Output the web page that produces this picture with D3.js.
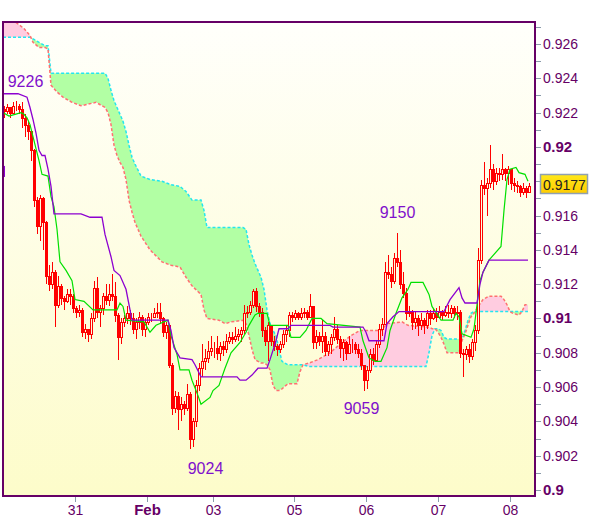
<!DOCTYPE html>
<html><head><meta charset="utf-8">
<script src="https://cdn.jsdelivr.net/npm/d3@7"></script>
<style>html,body{margin:0;padding:0;background:#fff;} svg{display:block;}</style>
</head><body><svg id="c" width="600" height="519"></svg>
<script>
// ---- DATA (prices in pips, 9221 = 0.9221) ----
const firstOpen = 9222;
const close = [9221,9223,9220,9224,9224,9222,9217,9213,9209,9198,
9169,9154,9170,9156,9125,9120,9127,9108,9119,9112,
9110,9114,9113,9106,9104,9105,9092,9094,9091,9100,
9118,9104,9106,9113,9111,9114,9113,9102,9089,9098,
9100,9103,9100,9094,9098,9101,9094,9098,9101,9101,
9103,9104,9100,9092,9096,9073,9048,9055,9047,9050,
9048,9056,9030,9040,9061,9071,9075,9077,9081,9083,
9083,9080,9084,9082,9087,9089,9088,9090,9091,9093,
9103,9104,9108,9116,9107,9104,9093,9087,9096,9087,
9084,9082,9085,9091,9093,9102,9101,9103,9101,9103,
9104,9101,9107,9086,9090,9087,9090,9081,9085,9089,
9094,9088,9083,9086,9080,9085,9085,9082,9080,9073,
9064,9070,9079,9076,9085,9094,9097,9127,9126,9122,
9135,9133,9120,9115,9103,9104,9098,9100,9096,9099,
9096,9103,9100,9103,9101,9104,9102,9104,9103,9106,
9103,9104,9080,9079,9082,9078,9086,9093,9134,9178,
9176,9179,9187,9180,9185,9184,9187,9185,9187,9179,
9178,9177,9174,9176,9174,9177];
const high = [9224,9225,9223,9226,9227,9225,9226,9219,9215,9210,
9199,9171,9172,9171,9157,9131,9133,9128,9125,9120,
9113,9117,9117,9114,9107,9108,9106,9097,9094,9103,
9122,9124,9108,9115,9120,9120,9126,9121,9103,9100,
9102,9107,9105,9103,9100,9104,9102,9100,9103,9103,
9106,9109,9109,9101,9098,9096,9074,9058,9057,9054,
9052,9062,9057,9042,9064,9074,9085,9082,9087,9090,
9086,9090,9086,9087,9091,9092,9092,9095,9094,9095,
9108,9107,9110,9117,9118,9109,9106,9095,9098,9096,
9090,9085,9087,9093,9096,9104,9104,9105,9104,9106,
9106,9105,9114,9107,9093,9092,9099,9092,9087,9091,
9101,9096,9090,9088,9087,9090,9088,9086,9085,9082,
9073,9072,9082,9083,9087,9097,9100,9133,9137,9130,
9138,9150,9140,9127,9118,9107,9105,9104,9102,9103,
9100,9105,9105,9106,9106,9107,9105,9107,9108,9108,
9107,9107,9105,9082,9084,9085,9088,9096,9141,9181,
9191,9182,9201,9190,9188,9188,9196,9188,9189,9187,
9182,9180,9178,9179,9177,9179];
const low = [9217,9219,9217,9219,9221,9219,9211,9206,9204,9192,
9165,9149,9145,9140,9120,9116,9117,9095,9106,9108,
9105,9109,9108,9103,9100,9101,9089,9088,9086,9088,
9098,9100,9095,9102,9108,9107,9110,9098,9076,9085,
9095,9097,9096,9091,9088,9094,9090,9089,9096,9098,
9100,9100,9097,9089,9088,9071,9044,9045,9035,9040,
9044,9046,9024,9025,9037,9058,9066,9070,9074,9078,
9077,9076,9075,9078,9080,9085,9085,9086,9087,9086,
9091,9100,9102,9106,9104,9101,9089,9084,9075,9084,
9081,9078,9080,9083,9086,9089,9098,9099,9099,9099,
9100,9099,9100,9082,9082,9084,9080,9078,9078,9079,
9087,9085,9077,9075,9076,9079,9080,9079,9077,9070,
9058,9059,9068,9073,9075,9083,9090,9096,9123,9118,
9120,9130,9117,9112,9099,9101,9093,9094,9090,9093,
9091,9094,9096,9099,9098,9100,9099,9101,9100,9100,
9100,9099,9077,9066,9076,9074,9076,9081,9091,9132,
9172,9160,9176,9175,9178,9180,9181,9180,9178,9175,
9174,9173,9171,9172,9170,9173];

// Ichimoku cloud (span A = salmon, span B = cyan)
const cloudIdx = [0,4,7,9,10,12,14,15,16,18,20,23,26,31,34,35,36,37,38,39,40,41,42,43,44,46,49,53,56,59,61,63,66,67,68,72,74,76,80,81,82,83,84,86,87,88,89,90,91,92,93,95,98,99,100,102,105,109,113,116,119,126,128,133,135,141,142,143,144,145,146,147,148,152,153,154,155,156,157,158,160,162,166,167,168,169,170,172,173,174,175];
const spanA = [9277,9273,9269,9265,9261,9258,9258,9257,9236,9232,9229,9226,9224,9226,9223,9220,9213,9201,9195,9191,9188,9181,9169,9162,9156,9148,9140,9133,9131,9130,9124,9119,9114,9105,9100,9099,9097,9098,9099,9097,9090,9082,9076,9074,9074,9073,9070,9061,9058,9058,9059,9062,9062,9069,9073,9074,9076,9080,9086,9090,9093,9093,9097,9098,9096,9095,9095,9094,9094,9092,9089,9085,9080,9080,9087,9091,9096,9101,9103,9106,9111,9113,9113,9111,9108,9104,9103,9102,9104,9108,9108];
const spanB = [9264,9264,9264,9264,9263,9261,9259,9259,9243,9243,9243,9243,9243,9243,9243,9240,9233,9227,9223,9219,9215,9209,9201,9194,9190,9183,9181,9180,9178,9177,9174,9169,9169,9163,9153,9153,9153,9153,9153,9152,9143,9137,9132,9124,9117,9105,9097,9093,9090,9082,9075,9073,9073,9073,9073,9072,9072,9072,9072,9072,9072,9072,9072,9072,9072,9072,9080,9090,9094,9094,9093,9089,9088,9088,9088,9093,9099,9103,9104,9104,9104,9104,9104,9104,9104,9104,9104,9104,9104,9104,9104];

// Tenkan (green) and Kijun (purple)
const tenkanIdx = [0,2,4,6,7,8,9,10,12,13,15,16,17,18,19,21,23,24,27,30,38,39,40,41,47,49,51,55,56,58,59,62,63,65,66,69,70,72,74,76,79,81,82,84,85,88,89,95,96,99,101,103,106,108,119,120,122,124,126,128,129,131,133,135,136,140,142,143,146,150,151,152,153,156,157,158,159,160,162,166,167,168,169,171,172,174,175];
const tenkanVal = [9220,9218,9219,9220,9219,9217,9213,9206,9192,9184,9183,9171,9165,9152,9133,9128,9122,9111,9110,9105,9105,9109,9107,9099,9098,9092,9096,9099,9090,9079,9070,9070,9064,9055,9050,9054,9058,9061,9071,9080,9086,9092,9096,9102,9103,9103,9096,9096,9089,9089,9093,9100,9100,9097,9095,9087,9077,9075,9075,9083,9093,9103,9112,9117,9121,9121,9114,9107,9099,9099,9103,9101,9091,9089,9094,9108,9122,9127,9134,9142,9163,9181,9187,9188,9185,9184,9180];
const kijunIdx = [0,5,8,9,10,11,12,13,14,15,16,17,26,29,33,34,36,37,39,41,42,43,55,56,57,59,63,64,66,78,79,81,83,85,88,89,91,92,95,96,109,110,120,121,122,127,128,130,132,147,149,152,153,154,158,159,160,162,175];
const kijunVal = [9231,9231,9229,9223,9216,9208,9198,9195,9195,9187,9177,9161,9161,9159,9159,9149,9136,9128,9125,9117,9108,9099,9099,9093,9083,9077,9076,9073,9066,9066,9064,9064,9067,9071,9071,9076,9087,9094,9094,9096,9096,9095,9095,9092,9087,9087,9097,9101,9104,9104,9111,9118,9112,9109,9109,9120,9127,9134,9134];

// Axis ticks / labels
const yMin = 0.9, yMax = 0.926;
const yLabelVals = [0.9,0.902,0.904,0.906,0.908,0.91,0.912,0.914,0.916,0.918,0.92,0.922,0.924,0.926];
const yLabels = ["0.9","0.902","0.904","0.906","0.908","0.91","0.912","0.914","0.916","0.918","0.92","0.922","0.924","0.926"];
const yBold = [true,false,false,false,false,true,false,false,false,false,true,false,false,false];
const yMinorVals = [0.901,0.903,0.905,0.907,0.909,0.911,0.913,0.915,0.917,0.919,0.921,0.923,0.925,0.927];
const xTickIdx = [24,48,70,97,121,145,169];
const xTickLabels = ["31","Feb","03","05","06","07","08"];
const xTickBold = [false,true,false,false,false,false,false];

// Annotations of extremes
const annIdx = [7,131,67,119];
const annVal = [9226,9150,9024,9059];
const annSide = ["above","above","below","below"];
const lastPrice = 0.9177;
const leftMarker = 0.9186;

// ---- DRAW ----
const P = v => v/10000;
const svg = d3.select("#c");
const nBars = close.length;
const L = 3, R = 535, T = 22, B = 496;
const x = d3.scaleLinear().domain([0, nBars]).range([3, 531]);
const y = d3.scaleLinear().domain([yMin, yMax]).range([490, 44]);

const defs = svg.append("defs");
const grad = defs.append("linearGradient").attr("id","bg").attr("x1",0).attr("y1",0).attr("x2",0).attr("y2",1);
grad.append("stop").attr("offset","0%").attr("stop-color","#fffffb");
grad.append("stop").attr("offset","100%").attr("stop-color","#fdfcca");
const yg = defs.append("linearGradient").attr("id","yl").attr("x1",0).attr("y1",0).attr("x2",0).attr("y2",1);
yg.append("stop").attr("offset","0%").attr("stop-color","#ffe81a");
yg.append("stop").attr("offset","100%").attr("stop-color","#ffcc00");

defs.append("clipPath").attr("id","plot").append("rect")
  .attr("x",L).attr("y",T).attr("width",R-L).attr("height",B-T);

const cloud = cloudIdx.map((d,k)=>({i:d, a:P(spanA[k]), b:P(spanB[k])}));
defs.append("clipPath").attr("id","aboveA").append("path")
  .attr("d", d3.area().x(d=>x(d.i)).y0(0).y1(d=>y(d.a))(cloud));
defs.append("clipPath").attr("id","belowA").append("path")
  .attr("d", d3.area().x(d=>x(d.i)).y0(600).y1(d=>y(d.a))(cloud));

svg.append("rect").attr("x",L).attr("y",T).attr("width",R-L).attr("height",B-T).attr("fill","url(#bg)");

const g = svg.append("g").attr("clip-path","url(#plot)");
const areaAB = d3.area().x(d=>x(d.i)).y0(d=>y(d.a)).y1(d=>y(d.b));
g.append("g").attr("clip-path","url(#aboveA)").append("path").attr("d",areaAB(cloud)).attr("fill","#b2ffa4");
g.append("g").attr("clip-path","url(#belowA)").append("path").attr("d",areaAB(cloud)).attr("fill","#ffcce0");
g.append("path").attr("d", d3.line().x(d=>x(d.i)).y(d=>y(d.b))(cloud))
  .attr("fill","none").attr("stroke","#22e6f0").attr("stroke-width",1.5).attr("stroke-dasharray","3,2");
g.append("path").attr("d", d3.line().x(d=>x(d.i)).y(d=>y(d.a))(cloud))
  .attr("fill","none").attr("stroke","#ff7070").attr("stroke-width",1.5).attr("stroke-dasharray","3,2");

// candles
const bars = d3.range(nBars).map(i=>{
  const o = i===0 ? firstOpen : close[i-1], c = close[i];
  return {i, o:P(o), c:P(c), h:P(Math.max(high[i],o,c)), l:P(Math.min(low[i],o,c))};
});
const cg = g.append("g");
cg.selectAll("line").data(bars).join("line")
  .attr("x1",d=>x(d.i)+1.5).attr("x2",d=>x(d.i)+1.5)
  .attr("y1",d=>Math.round(y(d.h))).attr("y2",d=>Math.round(y(d.l)))
  .attr("stroke","#ff0000").attr("stroke-width",1);
cg.selectAll("rect").data(bars).join("rect")
  .attr("x",d=>x(d.i)+0.5).attr("width",2)
  .attr("y",d=>Math.round(y(Math.max(d.o,d.c)))+0.5)
  .attr("height",d=>Math.max(0, Math.round(y(Math.min(d.o,d.c)))-Math.round(y(Math.max(d.o,d.c)))))
  .attr("fill",d=>d.c>d.o ? "#fefcdc" : "#ff0000")
  .attr("stroke","#ff0000").attr("stroke-width",1);

// lines
const tk = tenkanIdx.map((d,k)=>({i:d, v:P(tenkanVal[k])}));
const kj = kijunIdx.map((d,k)=>({i:d, v:P(kijunVal[k])}));
g.append("path").attr("d", d3.line().x(d=>x(d.i)).y(d=>y(d.v))(tk))
  .attr("fill","none").attr("stroke","#00e000").attr("stroke-width",1.2);
g.append("path").attr("d", d3.line().x(d=>x(d.i)).y(d=>y(d.v))(kj))
  .attr("fill","none").attr("stroke","#8c00d0").attr("stroke-width",1.3);

// annotations
const fontF = "'Liberation Sans', Arial, sans-serif";
annIdx.forEach((ix,k)=>{
  const v = P(annVal[k]);
  svg.append("text").attr("x", x(ix)+1.5)
    .attr("y", annSide[k]==="above" ? y(v)-15 : y(v)+25)
    .attr("text-anchor","middle").attr("font-family",fontF).attr("font-size",16)
    .attr("fill","#7f10cc").text(String(annVal[k]));
});

// left marker
svg.append("rect").attr("x",L).attr("y",y(leftMarker)-5).attr("width",2).attr("height",11).attr("fill","#8c00d0");

// border
svg.append("rect").attr("x",L).attr("y",T).attr("width",R-L).attr("height",B-T)
  .attr("fill","none").attr("stroke","#660066").attr("stroke-width",2);

// y axis
const allY = yLabelVals.concat(yMinorVals);
svg.append("g").selectAll("line").data(allY).join("line")
  .attr("x1",R+1).attr("x2",R+6)
  .attr("y1",d=>Math.round(y(d))+0.5).attr("y2",d=>Math.round(y(d))+0.5)
  .attr("stroke","#8a9aaa").attr("stroke-width",1);
yLabelVals.forEach((v,k)=>{
  svg.append("text").attr("x",R+8).attr("y",y(v)+5)
    .attr("font-family",fontF).attr("font-size",yBold[k]?15:14)
    .attr("font-weight",yBold[k]?"bold":"normal")
    .attr("fill","#660066").text(yLabels[k]);
});

// x axis
xTickIdx.forEach((ix,k)=>{
  const px = Math.round(x(ix))+0.5;
  svg.append("line").attr("x1",px).attr("x2",px).attr("y1",B+1).attr("y2",B+6)
    .attr("stroke","#8a9aaa").attr("stroke-width",1);
  svg.append("text").attr("x",px).attr("y",515).attr("text-anchor","middle")
    .attr("font-family",fontF).attr("font-size",xTickBold[k]?15:14)
    .attr("font-weight",xTickBold[k]?"bold":"normal")
    .attr("fill","#660066").text(xTickLabels[k]);
});

// last price label
const ly = y(lastPrice);
svg.append("rect").attr("x",540.5).attr("y",Math.round(ly)-11.5).attr("width",47).attr("height",19)
  .attr("fill","url(#yl)").attr("stroke","#8fa0b2").attr("stroke-width",1.5);
svg.append("text").attr("x",543).attr("y",ly+4).attr("font-family",fontF).attr("font-size",14)
  .attr("fill","#222").text(lastPrice.toFixed(4));
</script></body></html>
